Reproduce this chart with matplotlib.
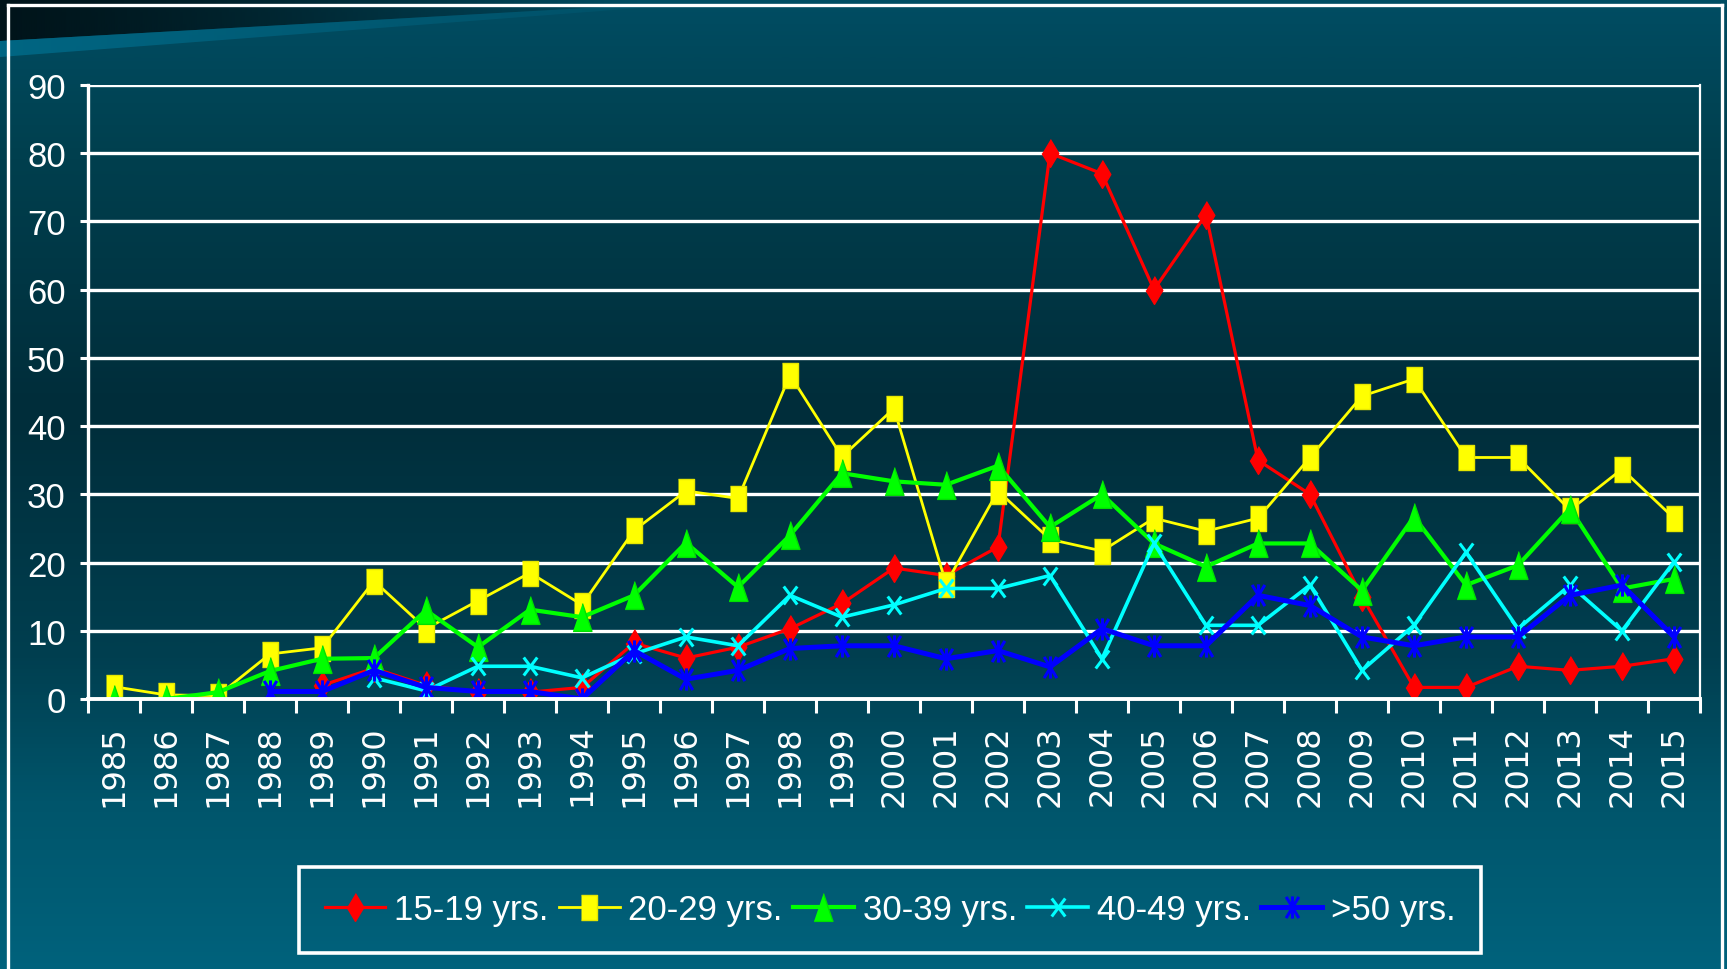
import numpy as np
import matplotlib
matplotlib.use('Agg')
import matplotlib.pyplot as plt
from matplotlib.path import Path
from matplotlib.patches import Polygon
from matplotlib.colors import LinearSegmentedColormap, to_rgb
from matplotlib.lines import Line2D

years = [str(y) for y in range(1985, 2016)]
nan = np.nan

age_15_19 = [0, 0, 0, nan, 2, 4.5, 2, 1, 1, 1.7, 8.2, 6, 7.6, 10.3, 14, 19.2, 18.1, 22.3,
             80, 77, 60, 71, 35, 30, 15, 1.7, 1.7, 4.8, 4.2, 4.8, 5.9]
age_20_29 = [1.8, 0.6, 0.5, 6.6, 7.5, 17.3, 10.3, 14.4, 18.5, 13.8, 24.7, 30.5, 29.4, 47.5,
             35.5, 42.6, 16.9, 30.5, 23.4, 21.7, 26.5, 24.6, 26.5, 35.4, 44.4, 46.9,
             35.4, 35.4, 27.7, 33.7, 26.5]
age_30_39 = [0, 0, 1, 4.1, 5.9, 6, 13, 7.6, 13.1, 12, 15.2, 22.9, 16.4, 24, 33.1, 31.9,
             31.4, 34.2, 25.2, 30, 22.8, 19.4, 22.8, 22.8, 15.9, 26.7, 16.7, 19.6, 27.9,
             16.2, 17.6]
age_40_49 = [nan, nan, nan, nan, nan, 3.1, 1.2, 4.8, 4.8, 3.1, 6.6, 9.1, 7.8, 15.2, 12,
             13.8, 16.2, 16.2, 18.1, 5.9, 22.8, 10.8, 10.8, 16.7, 4.2, 10.8, 21.5, 10.3,
             16.7, 10, 20.1]
age_50_up = [nan, nan, nan, 1.1, 1.1, 4.2, 1.7, 1.1, 1.1, 0, 7.1, 2.9, 4.2, 7.4, 7.8, 7.8,
             5.9, 7.1, 4.7, 10.3, 7.8, 7.8, 15.2, 13.7, 9.1, 7.8, 9.1, 9.1, 15.2, 16.7, 9.1]

labels = ['15-19 yrs.', '20-29 yrs.', '30-39 yrs.', '40-49 yrs.', '>50 yrs.']

narrow = ['Liberation Sans Narrow', 'Liberation Sans', 'DejaVu Sans']

W, H = 1727, 970
fig = plt.figure(figsize=(W / 100, H / 100), dpi=100)

# background gradient (whole slide)
bg = fig.add_axes([0, 0, 1, 1], zorder=-10)
bg.set_xlim(0, W)
bg.set_ylim(H, 0)
bg.axis('off')
stops = [(0.0, '#004d63'), (0.15, '#00404f'), (0.42, '#002d3a'), (0.68, '#003f50'),
         (0.83, '#00556b'), (1.0, '#00627c')]
cmap = LinearSegmentedColormap.from_list('bgv', stops)
grad = np.linspace(0, 1, 256).reshape(-1, 1)
bg.imshow(grad, cmap=cmap, extent=(0, W, H, 0), aspect='auto', interpolation='bicubic')

# dark corner at the top left with a light stripe
hgrad = np.linspace(0, 1, 256).reshape(1, -1)
dark = np.zeros((1, 256, 4))
dark[..., :3] = to_rgb('#00141a')
dark[..., 3] = np.clip(1 - hgrad ** 1.3, 0, 1)
im1 = bg.imshow(dark, extent=(0, 640, H, 0), aspect='auto')
p1 = Polygon([(0, 0), (640, 0), (640, 6), (0, 42)], closed=True, transform=bg.transData)
im1.set_clip_path(p1)
stripe = np.zeros((1, 256, 4))
stripe[..., :3] = to_rgb('#006683')
stripe[..., 3] = np.clip(1 - hgrad * 0.8, 0, 1)
im2 = bg.imshow(stripe, extent=(0, 640, H, 0), aspect='auto')
p2 = Polygon([(0, 42), (640, 6), (640, 9), (0, 58)], closed=True, transform=bg.transData)
im2.set_clip_path(p2)

# outer white frame
for xs, ys in [((8, 8), (6, H)), ((8, 1722), (6, 6)), ((1722, 1722), (6, H))]:
    bg.add_line(Line2D(xs, ys, color='white', lw=2.4))

ax = fig.add_axes([88 / W, 1 - 700 / H, (1700 - 88) / W, (700 - 86) / H])
ax.set_facecolor('none')

x = np.arange(len(years))

diamond = [(0, 1), (0.6, 0), (0, -1), (-0.6, 0)]
square = [(-0.66, -1), (0.66, -1), (0.66, 1), (-0.66, 1)]
triangle = [(0, 1), (0.68, -1), (-0.68, -1)]
M, L = Path.MOVETO, Path.LINETO
xmark = Path([(-0.75, -1), (0.75, 1), (-0.75, 1), (0.75, -1)], [M, L, M, L])
star = Path([(-0.6, -1), (0.6, 1), (-0.6, 1), (0.6, -1), (0, -1.05), (0, 1.05)],
            [M, L, M, L, M, L])

ax.plot(x, age_15_19, color='#ff0000', lw=2.3, marker=diamond, ms=20,
        mec='#ff0000', mfc='#ff0000', label=labels[0])
ax.plot(x, age_20_29, color='#ffff00', lw=2.0, marker=square, ms=18,
        mec='#e6e600', mfc='#ffff00', label=labels[1])
ax.plot(x, age_30_39, color='#00ff00', lw=3, marker=triangle, ms=20,
        mec='#00e000', mfc='#00ff00', label=labels[2])
ax.plot(x, age_40_49, color='#00ffff', lw=2.6, marker=xmark, ms=13, mew=2.2,
        mec='#00ffff', mfc='none', label=labels[3])
ax.plot(x, age_50_up, color='#0000ff', lw=3.6, marker=star, ms=16, mew=2.2,
        mec='#0000ff', mfc='none', label=labels[4])

ax.set_xlim(-0.5, len(years) - 0.5)
ax.set_ylim(0, 90)
ax.set_yticks(range(0, 91, 10))
ax.set_xticks(x)
ax.set_xticklabels(years, rotation=90, family='DejaVu Sans', fontsize=23, color='white')
ax.set_xticks(np.arange(-0.5, len(years), 1), minor=True)
ax.tick_params(axis='x', which='major', length=0, pad=18)
ax.tick_params(axis='x', which='minor', length=10, width=2.2, color='white')
ax.tick_params(axis='y', length=6, width=2.2, color='white', pad=10, labelcolor='white',
               labelsize=25)
for t in ax.get_yticklabels():
    t.set_family(narrow)

ax.grid(axis='y', color='white', lw=2.4)
ax.set_axisbelow(True)
ax.spines['top'].set_visible(False)
ax.spines['left'].set_color('white')
ax.spines['left'].set_linewidth(2.4)
ax.spines['right'].set_color('white')
ax.spines['right'].set_linewidth(1.6)
ax.spines['bottom'].set_color('white')
ax.spines['bottom'].set_linewidth(2.8)

leg = ax.legend(loc='center', bbox_to_anchor=(890 / W, 1 - 911 / H),
                bbox_transform=fig.transFigure, ncol=5, frameon=True,
                prop={'family': narrow, 'size': 25}, labelcolor='white',
                handlelength=1.75, handletextpad=0.25, columnspacing=0.3,
                borderpad=0.75, fancybox=False)
leg.get_frame().set_facecolor('none')
leg.get_frame().set_edgecolor('white')
leg.get_frame().set_alpha(None)
leg.get_frame().set_linewidth(2.6)

fig.savefig('out.png', dpi=100)
